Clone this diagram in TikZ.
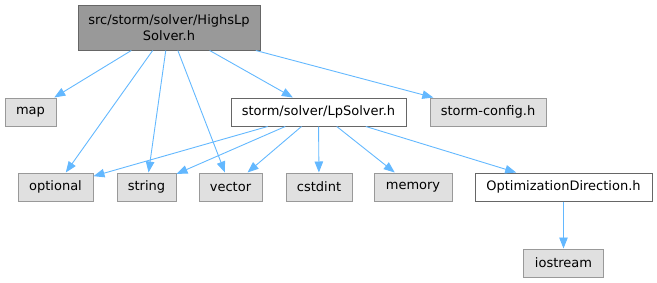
\documentclass[tikz,border=0pt]{standalone}
\usepackage{fontspec}
\setmainfont{DejaVu Sans}
\usetikzlibrary{arrows.meta}
\definecolor{edgeblue}{HTML}{63B8FF}
\definecolor{grayfill}{HTML}{E0E0E0}
\definecolor{grayline}{HTML}{999999}
\definecolor{darkline}{HTML}{666666}
\definecolor{mainfill}{HTML}{999999}
\begin{document}
\begin{tikzpicture}[x=1pt,y=-1pt,
  basebox/.style={rectangle, inner sep=0pt, line width=1pt, minimum height=28pt,
    font=\fontsize{13}{16.5}\selectfont, text=black, align=center},
  gbox/.style={basebox, fill=grayfill, draw=grayline},
  wbox/.style={basebox, fill=white, draw=darkline},
  mainbox/.style={basebox, fill=mainfill, draw=darkline},
  edge/.style={draw=edgeblue, line width=0.9pt, -{Triangle[length=11pt,width=8.5pt]}}]
\useasboundingbox (0,0) rectangle (657,282);
\node[mainbox, minimum width=182pt, minimum height=45pt] (top) at (169,27.5) {src/storm/solver/HighsLp\\Solver.h};
\node[gbox, minimum width=51pt] (map) at (30.5,112) {map};
\node[wbox, minimum width=175pt] (lp) at (318.5,112) {storm/solver/LpSolver.h};
\node[gbox, minimum width=116pt] (cfg) at (488,112) {storm-config.h};
\node[gbox, minimum width=75pt] (opt) at (55.5,187) {optional};
\node[gbox, minimum width=59pt] (str) at (146.5,187) {string};
\node[gbox, minimum width=63pt] (vec) at (230.5,187) {vector};
\node[gbox, minimum width=66pt] (cst) at (319,187) {cstdint};
\node[gbox, minimum width=78pt] (mem) at (413,187) {memory};
\node[wbox, minimum width=177pt] (od) at (563.5,187) {OptimizationDirection.h};
\node[gbox, minimum width=80pt] (ios) at (563.5,263) {iostream};
\draw[edge] (top) -- (map);
\draw[edge] (top) -- (opt);
\draw[edge] (top) -- (str);
\draw[edge] (top) -- (vec);
\draw[edge] (top) -- (lp);
\draw[edge] (top) -- (cfg);
\draw[edge] (lp) -- (opt);
\draw[edge] (lp) -- (str);
\draw[edge] (lp) -- (vec);
\draw[edge] (lp) -- (cst);
\draw[edge] (lp) -- (mem);
\draw[edge] (lp) -- (od);
\draw[edge] (od) -- (ios);
\end{tikzpicture}
\end{document}
